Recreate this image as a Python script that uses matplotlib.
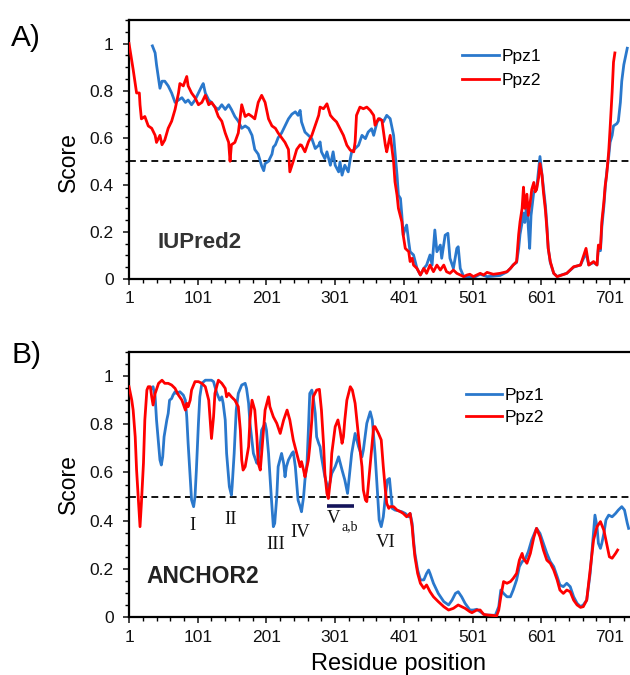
import matplotlib
matplotlib.use("Agg")
import matplotlib.pyplot as plt
from matplotlib.ticker import MultipleLocator, FixedLocator

plt.rcParams['font.family'] = ['Liberation Sans', 'DejaVu Sans']

# ---- IUPred2 (panel A) ----
iup_ppz1_x = [35,39,41,44,46,49,53,58,63,68,73,78,83,87,92,97,102,107,109,112,117,121,126,131,136,
              141,146,150,155,160,165,170,175,180,184,189,194,197,199,204,209,211,214,218,223,228,233,238,243,
              247,250,252,257,262,267,272,277,279,281,286,289,294,298,301,306,308,311,315,320,323,325,330,335,340,
              345,349,354,357,362,366,371,376,381,386,388,391,393,396,398,400,403,405,408,410,415,420,425,430,434,
              439,442,446,449,454,456,461,465,468,473,478,480,483,488,497,
              502,512,522,531,541,551,556,560,565,568,570,573,575,577,580,582,584,586,590,594,599,602,607,609,611,
              614,619,624,628,638,648,658,666,670,677,682,684,687,689,692,694,696,699,701,704,706,711,713,716,718,721,726]
iup_ppz1_y = [0.99,0.96,0.91,0.85,0.81,0.84,0.84,0.82,0.79,0.75,0.76,0.77,0.75,0.76,0.74,0.76,0.79,0.82,0.83,0.79,0.76,0.75,0.73,0.72,0.74,
              0.72,0.74,0.72,0.69,0.67,0.64,0.65,0.64,0.61,0.55,0.53,0.48,0.46,0.49,0.50,0.53,0.56,0.57,0.60,0.62,0.65,0.68,0.70,0.71,
              0.695,0.716,0.667,0.624,0.61,0.596,0.554,0.568,0.582,0.54,0.511,0.54,0.483,0.54,0.483,0.455,0.497,0.441,0.483,0.455,0.511,0.54,0.554,0.568,0.61,
              0.596,0.624,0.638,0.61,0.667,0.681,0.667,0.695,0.681,0.61,0.54,0.441,0.356,0.342,0.271,0.186,0.215,0.229,0.158,0.116,0.102,0.045,0.017,0.045,0.059,
              0.102,0.059,0.208,0.116,0.144,0.088,0.186,0.194,0.088,0.045,0.13,0.137,0.045,0.01,0.01,
              0.005,0.02,0.01,0.012,0.015,0.03,0.045,0.06,0.07,0.13,0.19,0.24,0.28,0.24,0.33,0.22,0.13,0.27,0.37,0.38,0.52,0.44,0.31,0.23,0.13,
              0.07,0.024,0.01,0.015,0.024,0.05,0.06,0.11,0.06,0.07,0.06,0.13,0.12,0.22,0.31,0.39,0.45,0.52,0.58,0.61,0.65,0.66,0.67,0.75,0.84,0.91,0.98]

iup_ppz2_x = [1,7,12,16,17,19,24,29,34,39,41,46,49,53,58,63,68,73,75,80,85,87,92,97,102,107,112,117,121,126,
              131,136,141,146,148,150,155,160,165,170,175,180,184,189,194,199,204,209,214,218,223,228,233,235,240,245,250,
              252,257,262,267,272,277,279,284,289,294,298,303,308,313,318,323,328,330,332,337,342,347,352,357,359,
              364,369,374,376,381,383,386,388,391,393,398,400,403,408,410,413,415,420,425,430,434,439,444,449,454,
              459,463,468,473,478,483,488,493,497,
              502,512,517,522,531,541,551,556,560,565,568,570,573,575,577,580,582,585,587,590,592,594,597,599,602,
              604,607,609,611,614,619,624,628,638,648,658,666,670,677,682,684,687,689,692,694,696,699,701,704,706,708]
iup_ppz2_y = [1.0,0.89,0.79,0.79,0.74,0.68,0.69,0.65,0.64,0.61,0.58,0.61,0.57,0.59,0.64,0.67,0.72,0.79,0.83,0.82,0.86,0.82,0.79,0.77,0.74,0.75,0.78,0.74,0.75,0.73,
              0.69,0.67,0.62,0.58,0.50,0.57,0.58,0.62,0.74,0.69,0.70,0.69,0.68,0.75,0.78,0.75,0.68,0.65,0.64,0.62,0.60,0.58,0.55,0.455,0.50,0.55,0.57,
              0.568,0.54,0.582,0.61,0.653,0.695,0.73,0.723,0.744,0.695,0.681,0.667,0.638,0.61,0.568,0.547,0.54,0.582,0.695,0.73,0.723,0.73,0.716,0.695,0.653,
              0.681,0.674,0.568,0.54,0.61,0.568,0.497,0.413,0.356,0.30,0.243,0.186,0.13,0.116,0.074,0.088,0.059,0.045,0.017,0.045,0.024,0.059,0.031,0.059,0.038,
              0.059,0.031,0.024,0.038,0.024,0.017,0.01,0.017,0.02,
              0.01,0.024,0.017,0.028,0.02,0.024,0.031,0.045,0.059,0.074,0.19,0.243,0.30,0.39,0.30,0.36,0.27,0.33,0.38,0.41,0.37,0.38,0.43,0.49,0.44,
              0.37,0.29,0.215,0.13,0.074,0.024,0.01,0.014,0.024,0.052,0.059,0.13,0.059,0.074,0.059,0.144,0.13,0.243,0.328,0.399,0.441,0.54,0.638,0.794,0.921,0.96]

# ---- ANCHOR2 (panel B) ----
anc_ppz1_x = [34,36,39,41,44,46,48,50,52,56,58,60,63,65,68,70,75,80,83,85,87,90,92,95,97,99,102,104,107,112,117,
              121,124,126,129,131,133,136,138,141,143,147,150,151,154,157,160,165,170,172,175,177,182,187,189,192,
              194,199,201,204,208,211,213,216,218,221,223,226,228,230,233,238,240,243,
              247,250,252,255,257,260,262,264,267,269,272,274,277,279,281,286,291,294,296,301,306,311,315,319,323,
              325,330,335,340,342,347,352,355,359,362,365,368,371,374,377,380,382,384,388,393,398,403,408,410,413,
              415,417,421,425,430,434,437,439,444,451,459,466,471,476,480,485,490,497,
              502,507,512,519,526,534,539,542,546,551,556,560,565,569,573,577,582,587,592,594,599,604,609,614,619,
              624,628,633,638,643,648,653,658,662,667,672,676,679,682,684,687,689,692,695,699,704,709,713,718,722,726,728]
anc_ppz1_y = [0.95,0.956,0.914,0.818,0.721,0.652,0.631,0.665,0.748,0.818,0.845,0.9,0.907,0.921,0.935,0.928,0.935,0.921,0.9,0.831,0.721,0.582,0.486,0.458,0.499,0.61,0.804,0.914,0.97,0.983,0.983,
              0.983,0.977,0.956,0.928,0.914,0.9,0.914,0.887,0.818,0.679,0.541,0.506,0.541,0.679,0.859,0.928,0.963,0.97,0.949,0.887,0.804,0.679,0.638,0.652,0.721,
              0.776,0.804,0.776,0.679,0.499,0.375,0.389,0.499,0.624,0.658,0.679,0.638,0.582,0.624,0.652,0.679,0.686,0.624,
              0.485,0.458,0.437,0.499,0.569,0.638,0.776,0.928,0.942,0.914,0.845,0.748,0.721,0.707,0.665,0.582,0.527,0.569,0.596,0.624,0.665,0.61,0.569,0.513,0.624,
              0.679,0.762,0.707,0.665,0.693,0.804,0.852,0.818,0.679,0.541,0.403,0.375,0.416,0.499,0.569,0.575,0.513,0.451,0.444,0.441,0.437,0.43,0.416,0.43,0.389,
              0.32,0.264,0.195,0.154,0.154,0.181,0.195,0.181,0.14,0.098,0.064,0.05,0.07,0.098,0.105,0.084,0.057,0.029,
              0.029,0.032,0.022,0.008,0.008,0.007,0.043,0.112,0.098,0.084,0.084,0.112,0.154,0.209,0.23,0.237,0.271,0.32,0.354,0.368,0.347,0.306,0.264,0.23,0.209,
              0.168,0.133,0.126,0.14,0.126,0.084,0.057,0.043,0.05,0.07,0.18,0.32,0.423,0.375,0.306,0.285,0.306,0.347,0.403,0.423,0.416,0.43,0.444,0.458,0.444,0.39,0.368]

anc_ppz2_x = [1,5,7,10,12,15,17,19,22,24,27,29,32,34,36,39,44,49,53,58,63,68,73,78,83,85,87,90,92,97,102,107,112,117,119,
              121,124,126,131,136,141,143,146,150,155,160,163,165,167,170,175,177,180,184,187,189,192,194,199,204,206,211,216,221,
              226,231,235,240,245,250,
              252,255,257,260,262,264,267,269,274,278,281,284,286,289,291,294,296,301,305,308,311,313,315,318,323,326,330,335,340,
              342,345,347,349,353,357,359,364,368,371,374,376,379,381,386,391,396,400,405,410,413,415,417,421,425,430,434,439,444,
              451,459,466,473,480,485,490,497,
              500,507,512,517,524,531,536,539,542,546,551,556,560,565,569,573,575,580,585,590,594,599,604,609,614,619,624,628,633,
              638,643,648,653,658,662,667,672,677,682,687,692,696,700,704,709,712]
anc_ppz2_y = [0.956,0.9,0.859,0.748,0.61,0.472,0.375,0.472,0.638,0.818,0.942,0.956,0.956,0.914,0.88,0.928,0.97,0.983,0.97,0.97,0.963,0.949,0.921,0.9,0.859,0.887,0.873,0.9,0.942,0.977,0.977,0.97,0.956,0.9,0.818,
              0.741,0.831,0.928,0.983,0.97,0.949,0.914,0.928,0.914,0.9,0.873,0.776,0.652,0.61,0.624,0.707,0.818,0.9,0.859,0.748,0.638,0.61,0.679,0.859,0.914,0.873,0.831,0.804,0.762,
              0.818,0.859,0.818,0.735,0.679,0.624,
              0.645,0.61,0.582,0.624,0.652,0.707,0.818,0.914,0.942,0.945,0.859,0.721,0.596,0.513,0.492,0.568,0.679,0.79,0.818,0.776,0.721,0.748,0.818,0.9,0.956,0.942,0.887,0.748,0.624,
              0.527,0.486,0.479,0.541,0.665,0.79,0.79,0.762,0.735,0.624,0.527,0.472,0.451,0.458,0.458,0.444,0.437,0.43,0.416,0.43,0.375,0.306,0.25,0.181,0.14,0.119,0.133,0.105,0.084,
              0.064,0.043,0.029,0.036,0.05,0.043,0.036,0.022,
              0.018,0.029,0.029,0.011,0.008,0.006,0.005,0.029,0.084,0.147,0.14,0.147,0.16,0.181,0.236,0.264,0.243,0.223,0.264,0.33,0.368,0.333,0.278,0.236,0.223,0.195,0.154,0.112,0.098,
              0.112,0.105,0.07,0.05,0.04,0.043,0.07,0.195,0.32,0.375,0.396,0.36,0.306,0.25,0.244,0.264,0.278]

# motif labels under the ANCHOR2 dips
motif_names = ["I", "II", "III", "IV", "VI"]
motif_x = [94, 149, 214, 250, 374]
motif_y = [0.38, 0.405, 0.30, 0.35, 0.31]

xticks = [1, 101, 201, 301, 401, 501, 601, 701]
yticks = [0, 0.2, 0.4, 0.6, 0.8, 1]
ytick_labels = ["0", "0.2", "0.4", "0.6", "0.8", "1"]

blue = "#2a78cc"
red = "#ff0000"

fig = plt.figure(figsize=(6.3, 6.75), dpi=100)
ax1 = fig.add_axes([0.2048, 0.5867, 0.7952, 0.3837])
ax2 = fig.add_axes([0.2048, 0.0859, 0.7952, 0.3926])


def style(ax):
    ax.set_xlim(1, 730)
    ax.set_ylim(0, 1.1)
    ax.xaxis.set_major_locator(FixedLocator(xticks))
    ax.xaxis.set_minor_locator(MultipleLocator(20, offset=1))
    ax.set_yticks(yticks)
    ax.set_yticklabels(ytick_labels)
    ax.yaxis.set_minor_locator(MultipleLocator(0.05))
    ax.spines['right'].set_visible(False)
    for s in ['left', 'top', 'bottom']:
        ax.spines[s].set_linewidth(1.6)
    ax.tick_params(which='major', direction='out', length=4, width=1.1, labelsize=12.5, colors='#111111')
    ax.tick_params(which='minor', direction='out', length=3, width=1.0)
    ax.tick_params(axis='y', pad=7)
    ax.tick_params(axis='x', pad=5)
    ax.tick_params(top=False, right=False, which='both')
    ax.axhline(0.5, color='black', lw=1.3, linestyle=(0, (3.8, 2.4)), zorder=1)
    ax.set_ylabel("Score", fontsize=16.5)


# panel A
ax1.plot(iup_ppz1_x, iup_ppz1_y, color=blue, lw=2.0, label="Ppz1", zorder=2)
ax1.plot(iup_ppz2_x, iup_ppz2_y, color=red, lw=2.0, label="Ppz2", zorder=3)
style(ax1)
ax1.yaxis.set_label_coords(-0.098, 0.45)
ax1.text(42, 0.13, "IUPred2", fontsize=16, fontweight='bold', color='#333333', ha='left', va='baseline')
ax1.legend(loc='upper left', bbox_to_anchor=(0.665, 0.89), frameon=False, fontsize=12.5,
           handlelength=2.1, handletextpad=0.15, labelspacing=0.55, borderpad=0, borderaxespad=0)

# panel B
ax2.plot(anc_ppz1_x, anc_ppz1_y, color=blue, lw=2.0, label="Ppz1", zorder=2)
ax2.plot(anc_ppz2_x, anc_ppz2_y, color=red, lw=2.0, label="Ppz2", zorder=3)
style(ax2)
ax2.yaxis.set_label_coords(-0.098, 0.5)
ax2.set_xlabel("Residue position", fontsize=17)
ax2.xaxis.set_label_coords(0.537, -0.135)
ax2.text(27, 0.14, "ANCHOR2", fontsize=16.5, fontweight='bold', color='#222222', ha='left', va='baseline')
ax2.legend(loc='upper left', bbox_to_anchor=(0.672, 0.865), frameon=False, fontsize=12.5,
           handlelength=2.1, handletextpad=0.15, labelspacing=0.4, borderpad=0, borderaxespad=0)

serif = ['Liberation Serif', 'DejaVu Serif']
for name, mx, my in zip(motif_names, motif_x, motif_y):
    ax2.text(mx, my, name, family=serif, fontsize=13.5, ha='center', va='center', color='#111111')
ax2.text(299, 0.41, "V", family=serif, fontsize=13.5, ha='center', va='center', color='#111111')
ax2.text(322, 0.373, "a,b", family=serif, fontsize=10, ha='center', va='center', color='#111111')
ax2.plot([289, 328], [0.462, 0.462], color='#14145a', lw=2.6, solid_capstyle='butt')

fig.text(0.018, 0.944, "A)", fontsize=21.5, ha='left', va='center')
fig.text(0.018, 0.474, "B)", fontsize=21.5, ha='left', va='center')

fig.savefig("out.png", dpi=100)
